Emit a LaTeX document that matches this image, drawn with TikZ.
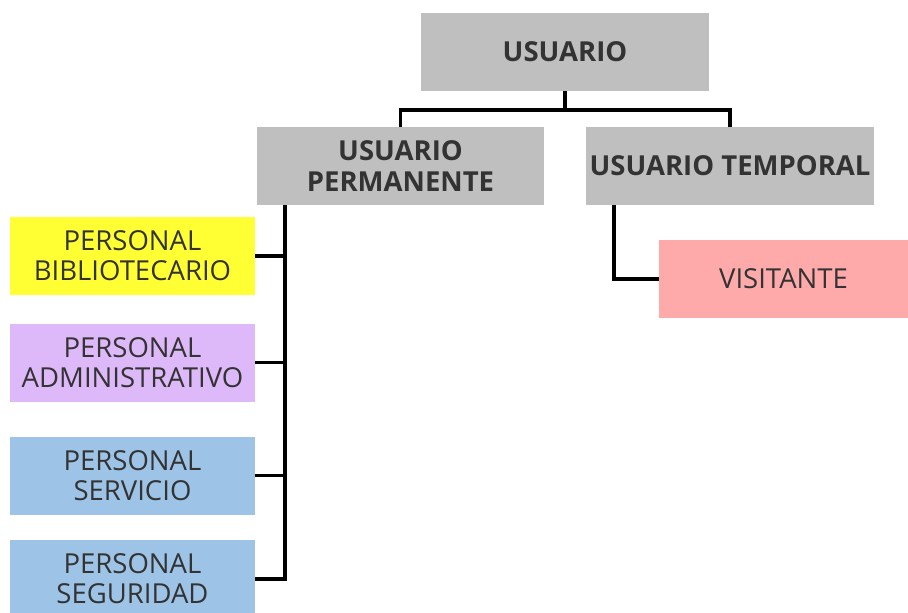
\documentclass[tikz,border=0pt]{standalone}
\usepackage{fontspec}
\setmainfont{Open Sans}
\definecolor{boxgray}{HTML}{BFBFBF}
\definecolor{byellow}{HTML}{FFFF33}
\definecolor{bpurple}{HTML}{DDB9FA}
\definecolor{bblue}{HTML}{9DC3E6}
\definecolor{bpink}{HTML}{FFAAAA}
\definecolor{txt}{HTML}{333333}
\tikzset{
  box/.style={rectangle, inner sep=0pt, align=center, text=txt,
    font=\fontsize{27.5}{30}\selectfont},
  topbox/.style={box, fill=boxgray, font=\fontsize{27.5}{31}\selectfont\bfseries},
  leafbox/.style={box, minimum width=245pt, minimum height=78pt},
  conn/.style={draw=black, line width=3.5pt}
}
\begin{document}
\begin{tikzpicture}[x=1pt,y=-1pt]
\useasboundingbox (0,0) rectangle (908,613);
\node[topbox, minimum width=288pt, minimum height=78pt] (root) at (565,52) {USUARIO};
\node[topbox, minimum width=287pt, minimum height=78pt] (perm) at (400.5,166) {USUARIO\\PERMANENTE};
\node[topbox, minimum width=288pt, minimum height=78pt] (temp) at (730,166) {USUARIO TEMPORAL};
\node[leafbox, fill=byellow] (bib) at (132.5,256) {PERSONAL\\BIBLIOTECARIO};
\node[leafbox, fill=bpurple] (adm) at (132.5,362.5) {PERSONAL\\ADMINISTRATIVO};
\node[leafbox, fill=bblue] (ser) at (132.5,475.5) {PERSONAL\\SERVICIO};
\node[leafbox, fill=bblue] (seg) at (132.5,579) {PERSONAL\\SEGURIDAD};
\node[leafbox, minimum width=249pt, fill=bpink] (vis) at (783.5,279) {VISITANTE};
% root to second level
\coordinate (bus) at (565,110);
\draw[conn] (root.south) -- (bus);
\draw[conn] (perm.north) |- (bus) -| (temp.north);
% permanent branch
\coordinate (pv) at (285,0);
\draw[conn] (perm.south -| pv) -- (pv |- seg.east) -- (seg.east);
\draw[conn] (bib.east) -- (bib.east -| pv);
\draw[conn] (adm.east) -- (adm.east -| pv);
\draw[conn] (ser.east) -- (ser.east -| pv);
% temporal branch
\coordinate (tv) at (614,0);
\draw[conn] (temp.south -| tv) |- (vis.west);
\end{tikzpicture}
\end{document}
